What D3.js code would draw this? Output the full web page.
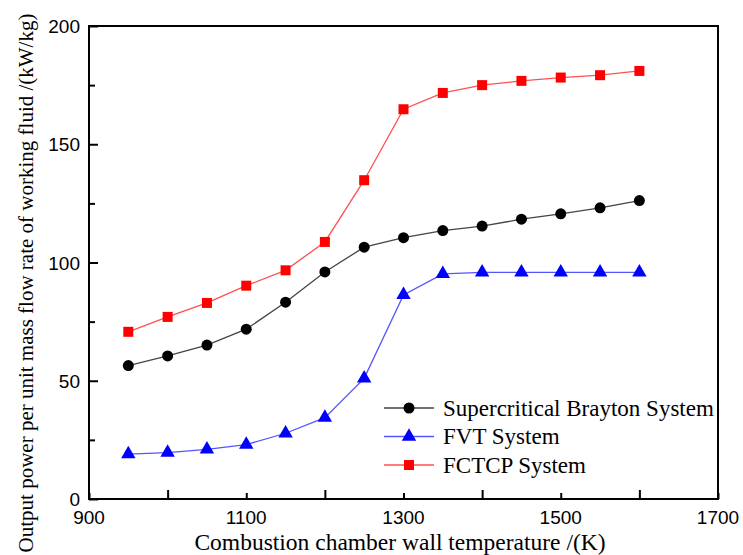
<!DOCTYPE html>
<html>
<head>
<meta charset="utf-8">
<script src="https://cdn.jsdelivr.net/npm/d3@7"></script>
<style>
  body { margin: 0; background: #fff; }
  .tick-label { font-family: "Liberation Sans", Arial, sans-serif; font-size: 19px; }
  .title { font-family: "Liberation Serif", "Times New Roman", serif; font-size: 21px; }
  .xtitle { font-size: 23.5px; }
  .legend { font-family: "Liberation Serif", "Times New Roman", serif; font-size: 23px; }
</style>
</head>
<body>
<svg id="chart" width="743" height="555"></svg>
<script>
var temps = [950, 1000, 1050, 1100, 1150, 1200, 1250, 1300, 1350, 1400, 1450, 1500, 1550, 1600];
var brayton = [56.4, 60.5, 65.1, 71.8, 83.2, 96.0, 106.5, 110.5, 113.5, 115.4, 118.3, 120.6, 123.1, 126.2];
var fvt = [19.0, 19.6, 21.0, 23.0, 27.8, 34.4, 51.0, 86.3, 95.2, 95.8, 95.8, 95.8, 95.8, 95.8];
var fctcp = [70.7, 77.0, 82.9, 90.2, 96.7, 108.7, 134.8, 164.8, 171.7, 175.0, 176.8, 178.2, 179.2, 181.0];
var xTicks = [900, 1100, 1300, 1500, 1700];
var yTicks = [0, 50, 100, 150, 200];
var seriesNames = ["Supercritical Brayton System", "FVT System", "FCTCP System"];

var svg = d3.select("#chart"),
    margin = {top: 26, right: 25, bottom: 56, left: 89},
    width = 743 - margin.left - margin.right,
    height = 555 - margin.top - margin.bottom,
    g = svg.append("g").attr("transform", "translate(" + margin.left + "," + margin.top + ")");

var x = d3.scaleLinear().domain([900, 1700]).range([0, width]),
    y = d3.scaleLinear().domain([0, 200]).range([height, 0]);

// frame
g.append("rect")
  .attr("width", width).attr("height", height)
  .attr("fill", "none").attr("stroke", "#000").attr("stroke-width", 2);

// inward ticks on bottom and left, minor ones in between
var xAxis = g.append("g").attr("transform", "translate(0," + height + ")")
  .call(d3.axisBottom(x).tickValues(d3.range(900, 1701, 100)).tickSize(-9).tickFormat(""));
xAxis.select(".domain").remove();
xAxis.selectAll(".tick line").attr("stroke-width", 2)
  .attr("y2", function(d) { return d % 200 === 100 ? -6 : -9; });

var yAxis = g.append("g")
  .call(d3.axisLeft(y).tickValues(d3.range(0, 201, 25)).tickSize(-9).tickFormat(""));
yAxis.select(".domain").remove();
yAxis.selectAll(".tick line").attr("stroke-width", 2)
  .attr("x2", function(d) { return d % 50 === 25 ? 6 : 9; });

g.selectAll(".xlab").data(xTicks).enter().append("text")
  .attr("class", "tick-label")
  .attr("x", function(d) { return x(d); })
  .attr("y", height + 25)
  .attr("text-anchor", "middle")
  .text(function(d) { return d; });

g.selectAll(".ylab").data(yTicks).enter().append("text")
  .attr("class", "tick-label")
  .attr("x", -9)
  .attr("y", function(d) { return y(d) + 7; })
  .attr("text-anchor", "end")
  .text(function(d) { return d; });

// axis titles
svg.append("text").attr("class", "title xtitle")
  .attr("x", 400).attr("y", 550)
  .attr("text-anchor", "middle")
  .text("Combustion chamber wall temperature /(K)");

svg.append("text").attr("class", "title")
  .attr("transform", "translate(33,283) rotate(-90)")
  .attr("text-anchor", "middle")
  .text("Output power per unit mass flow rate of working fluid /(kW/kg)");

var series = [
  {name: seriesNames[0], values: brayton, color: "#000", line: "#444", shape: d3.symbolCircle, size: 95},
  {name: seriesNames[1], values: fvt, color: "#0000ff", line: "#5555ff", shape: d3.symbolTriangle, size: 90},
  {name: seriesNames[2], values: fctcp, color: "#ff0000", line: "#ff5050", shape: d3.symbolSquare, size: 100}
];

var line = d3.line()
  .x(function(d, i) { return x(temps[i]); })
  .y(function(d) { return y(d); });

series.forEach(function(s) {
  g.append("path")
    .datum(s.values)
    .attr("fill", "none")
    .attr("stroke", s.line)
    .attr("stroke-width", 1.3)
    .attr("d", line);
  g.selectAll(null).data(s.values).enter().append("path")
    .attr("transform", function(d, i) { return "translate(" + x(temps[i]) + "," + y(d) + ")"; })
    .attr("d", d3.symbol().type(s.shape).size(s.size))
    .attr("fill", s.color);
});

// legend
var legend = svg.append("g").attr("transform", "translate(384,408)");
series.forEach(function(s, i) {
  var row = legend.append("g").attr("transform", "translate(0," + (i * 28.5) + ")");
  row.append("line").attr("x1", 0).attr("x2", 50).attr("y1", 0).attr("y2", 0)
    .attr("stroke", s.line).attr("stroke-width", 1.3);
  row.append("path").attr("transform", "translate(25,0)")
    .attr("d", d3.symbol().type(s.shape).size(s.size)).attr("fill", s.color);
  row.append("text").attr("class", "legend").attr("x", 59).attr("y", 7.5).text(s.name);
});
</script>
</body>
</html>
